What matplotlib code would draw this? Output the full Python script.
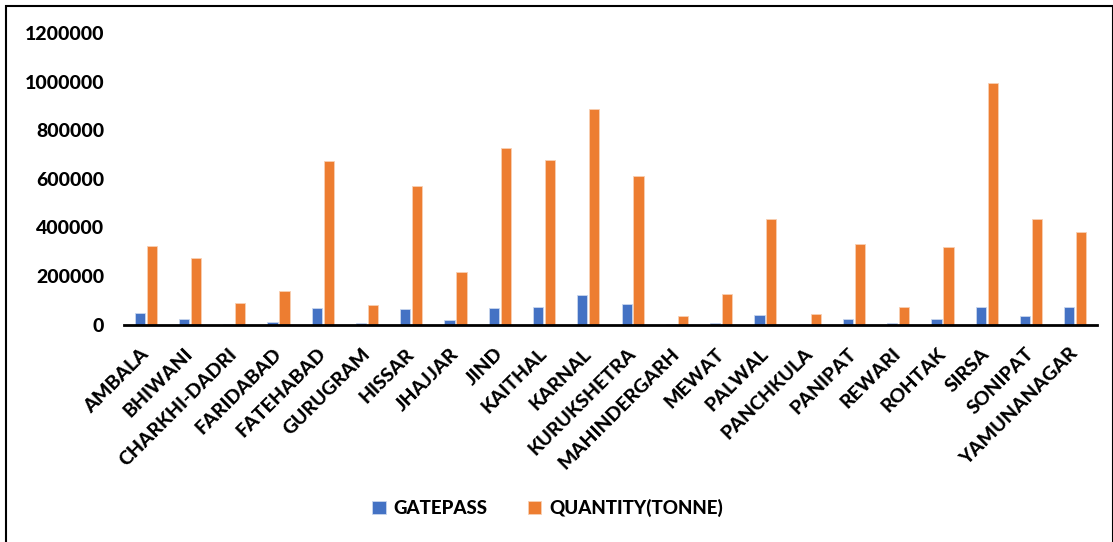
import numpy as np
import matplotlib.pyplot as plt
from matplotlib.patches import Rectangle
from matplotlib.transforms import ScaledTranslation

districts = ['AMBALA', 'BHIWANI', 'CHARKHI-DADRI', 'FARIDABAD', 'FATEHABAD',
             'GURUGRAM', 'HISSAR', 'JHAJJAR', 'JIND', 'KAITHAL', 'KARNAL',
             'KURUKSHETRA', 'MAHINDERGARH', 'MEWAT', 'PALWAL', 'PANCHKULA',
             'PANIPAT', 'REWARI', 'ROHTAK', 'SIRSA', 'SONIPAT', 'YAMUNANAGAR']
gatepass = [48000, 22000, 4000, 11000, 70000, 5000, 65000, 19000, 69000, 71000,
            121000, 83000, 4000, 8000, 38000, 4000, 25000, 5000, 22000, 74000,
            37000, 74000]
quantity = [323000, 274000, 91000, 140000, 674000, 81000, 570000, 216000,
            726000, 677000, 887000, 611000, 36000, 128000, 436000, 44000,
            330000, 74000, 318000, 996000, 433000, 381000]

plt.rcParams['font.family'] = ['Lato', 'DejaVu Sans']

fig = plt.figure(figsize=(11.13, 5.42), dpi=100)
ax = fig.add_axes([0.111, 0.401, 0.875, 0.538])

x = np.arange(len(districts))
w = 0.23
ax.bar(x - 0.135, gatepass, w, color='#4472C4', edgecolor='#c9d6ee', linewidth=0.6, label='GATEPASS')
ax.bar(x + 0.135, quantity, w, color='#ED7D31', edgecolor='#f8cfb3', linewidth=0.6, label='QUANTITY(TONNE)')

ax.set_xlim(-0.5, len(districts) - 0.5)
ax.set_ylim(0, 1200000)
ax.set_yticks(np.arange(0, 1200001, 200000))
ax.set_yticklabels([str(v) for v in range(0, 1200001, 200000)], fontsize=14, fontweight='black')
ax.set_xticks(x)
ax.set_xticklabels(districts, rotation=45, ha='right', va='center', rotation_mode='anchor',
                   fontsize=14, fontweight='black')
shift = ScaledTranslation(-0.08, 0, fig.dpi_scale_trans)
for lbl in ax.get_xticklabels():
    lbl.set_transform(lbl.get_transform() + shift)
ax.tick_params(axis='y', length=0, pad=14)
ax.tick_params(axis='x', length=0, pad=19)
for s in ['top', 'right', 'left']:
    ax.spines[s].set_visible(False)
ax.spines['bottom'].set_linewidth(2)
ax.spines['bottom'].set_color('black')

fig.legend(loc='center', bbox_to_anchor=(0.492, 0.063), ncol=2, frameon=False,
           handlelength=0.7, handleheight=0.7, columnspacing=2.2, handletextpad=0.4,
           prop={'size': 13.5, 'weight': 'black'})

fig.patches.append(Rectangle((0.005, -0.01), 0.995, 0.999, transform=fig.transFigure,
                             fill=False, edgecolor='black', linewidth=1.5))

fig.savefig('out.png', dpi=100)
